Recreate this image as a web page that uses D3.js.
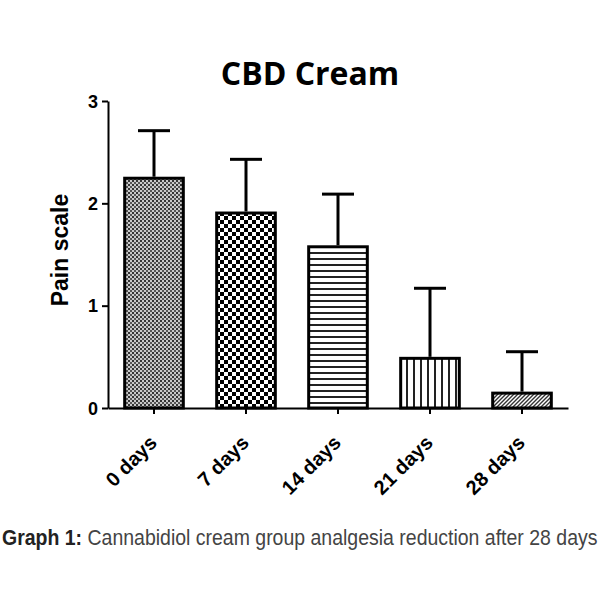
<!DOCTYPE html>
<html><head><meta charset="utf-8">
<script src="https://cdn.jsdelivr.net/npm/d3@7"></script>
<style>body{margin:0;background:#fff}</style>
</head><body>
<svg id="c" width="600" height="600"></svg>
<script>
const categories = ["0 days","7 days","14 days","21 days","28 days"];
const means = [2.26, 1.92, 1.59, 0.50, 0.16];
const errTop = [2.71, 2.43, 2.09, 1.17, 0.55];
const yTicks = [0,1,2,3];
const patterns = ["fine","checker","hlines","vlines","diag"];

const svg = d3.select("#c");
const x = d3.scaleBand().domain(categories).range([108,568]).paddingInner(0.33).paddingOuter(0.165);
const y = d3.scaleLinear().domain([0,3]).range([408,101]);

const defs = svg.append("defs");
let p = defs.append("pattern").attr("id","fine").attr("patternUnits","userSpaceOnUse").attr("width",4).attr("height",4);
p.append("rect").attr("width",4).attr("height",4).attr("fill","#c8c8c8");
p.append("rect").attr("width",2).attr("height",2).attr("fill","#333");
p.append("rect").attr("x",2).attr("y",2).attr("width",2).attr("height",2).attr("fill","#555");
p = defs.append("pattern").attr("id","checker").attr("patternUnits","userSpaceOnUse").attr("width",8).attr("height",8);
p.append("rect").attr("width",8).attr("height",8).attr("fill","#fff");
p.append("rect").attr("width",4).attr("height",4).attr("fill","#000");
p.append("rect").attr("x",4).attr("y",4).attr("width",4).attr("height",4).attr("fill","#000");
p = defs.append("pattern").attr("id","hlines").attr("patternUnits","userSpaceOnUse").attr("width",6).attr("height",6);
p.append("rect").attr("width",6).attr("height",6).attr("fill","#fff");
p.append("rect").attr("y",0).attr("width",6).attr("height",2).attr("fill","#222");
p = defs.append("pattern").attr("id","vlines").attr("patternUnits","userSpaceOnUse").attr("width",7).attr("height",7);
p.append("rect").attr("width",7).attr("height",7).attr("fill","#fff");
p.append("rect").attr("x",0).attr("width",2).attr("height",7).attr("fill","#222");
p = defs.append("pattern").attr("id","diag").attr("patternUnits","userSpaceOnUse").attr("width",4).attr("height",4);
p.append("rect").attr("width",4).attr("height",4).attr("fill","#fff");
p.append("path").attr("d","M-1,5 L5,-1 M-1,1 L1,-1 M3,5 L5,3").attr("stroke","#333").attr("stroke-width",1.4);

const eb = svg.append("g");
categories.forEach((c,i)=>{
  const cx = x(c)+x.bandwidth()/2;
  eb.append("line").attr("x1",cx).attr("x2",cx).attr("y1",y(means[i])).attr("y2",y(errTop[i])).attr("stroke","#000").attr("stroke-width",3);
  eb.append("line").attr("x1",cx-16).attr("x2",cx+16).attr("y1",y(errTop[i])).attr("y2",y(errTop[i])).attr("stroke","#000").attr("stroke-width",3);
});

svg.append("g").selectAll("rect").data(categories).join("rect")
  .attr("x",d=>x(d)+1.5).attr("width",x.bandwidth()-3)
  .attr("y",(d,i)=>y(means[i])+1.5).attr("height",(d,i)=>y(0)-y(means[i])-1.5)
  .attr("fill",(d,i)=>`url(#${patterns[i]})`).attr("stroke","#000").attr("stroke-width",3);

const ya = svg.append("g").attr("transform","translate(108,0)")
  .call(d3.axisLeft(y).tickValues(yTicks).tickFormat(d3.format("d")).tickSize(6).tickSizeOuter(0));
ya.select(".domain").attr("stroke-width",2);
ya.selectAll(".tick line").attr("stroke-width",2);
ya.selectAll("text").attr("font-family","Liberation Sans, Arial, sans-serif").attr("font-weight","bold").attr("font-size",18).attr("fill","#000").attr("dx",-1).attr("dy","0.35em");

const xa = svg.append("g").attr("transform","translate(0,408)")
  .call(d3.axisBottom(x).tickSize(6).tickSizeOuter(0));
xa.select(".domain").attr("stroke-width",2);
xa.selectAll(".tick line").attr("stroke-width",2);
xa.selectAll("text").attr("font-family","Liberation Sans, Arial, sans-serif").attr("font-weight","bold").attr("font-size",20).attr("fill","#000")
  .attr("text-anchor","end").attr("y",0).attr("dy",0).attr("transform","translate(4,36) rotate(-45)");

svg.append("text").attr("x",310).attr("y",85).attr("text-anchor","middle")
  .attr("font-family","Open Sans, sans-serif").attr("font-weight","bold").attr("font-size",32).text("CBD Cream");
svg.append("text").attr("transform","translate(68,250) rotate(-90)").attr("text-anchor","middle")
  .attr("font-family","Liberation Sans, Arial, sans-serif").attr("font-weight","bold").attr("font-size",23).text("Pain scale");

const cap = svg.append("text").attr("x",0).attr("y",0)
  .attr("font-family","Liberation Sans, Arial, sans-serif").attr("font-size",22).attr("fill","#444");
cap.append("tspan").attr("font-weight","bold").attr("fill","#222").text("Graph 1: ");
cap.append("tspan").text("Cannabidiol cream group analgesia reduction after 28 days");
const w = cap.node().getComputedTextLength();
cap.attr("transform",`translate(2,545) scale(${596/w},1)`);
</script>
</body></html>
